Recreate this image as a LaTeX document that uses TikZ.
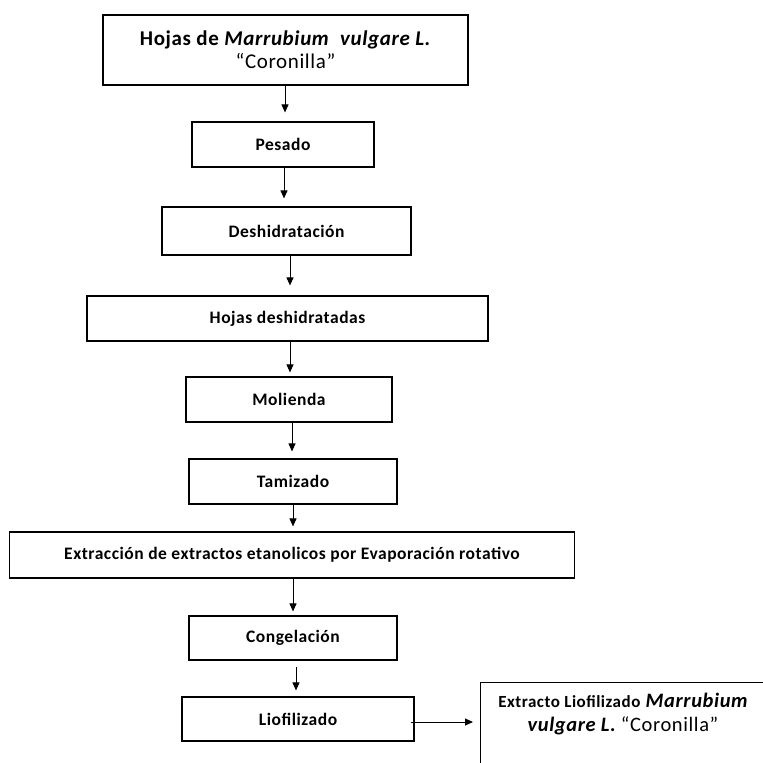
\documentclass[tikz,border=0pt]{standalone}
\usepackage{fontspec}
\setmainfont{Carlito}[LetterSpace=3]
\usetikzlibrary{arrows.meta}
\begin{document}
\begin{tikzpicture}[x=1pt,y=-1pt,
  box/.style={draw, line width=1.2pt, inner sep=0pt, align=center, font=\bfseries\fontsize{17.5}{20}\selectfont},
  arr/.style={line width=1pt, -{Triangle[length=8pt,width=7pt]}}]
\clip (0,0) rectangle (763,763);
\fill[white] (0,0) rectangle (763,763);
\node[box, minimum width=365pt, minimum height=70pt, font=\bfseries\fontsize{21}{23}\selectfont] (b1) at (285.5,50) {Hojas de \textit{Marrubium\hspace{6pt} vulgare L.}\\{\mdseries “Coronilla”}};
\node[box, minimum width=182pt, minimum height=45pt] (b2) at (283,144.5) {Pesado};
\node[box, minimum width=249pt, minimum height=48pt] (b3) at (286.5,231) {Deshidratación};
\node[box, minimum width=401pt, minimum height=45pt] (b4) at (287.5,318.5) {Hojas deshidratadas};
\node[box, minimum width=206pt, minimum height=45pt] (b5) at (289,399.5) {Molienda};
\node[box, minimum width=208pt, minimum height=45pt] (b6) at (293,481.5) {Tamizado};
\node[box, minimum width=565pt, minimum height=46pt] (b7) at (292,555) {Extracción de extractos etanolicos por Evaporación rotativo};
\node[box, minimum width=208pt, minimum height=44pt] (b8) at (293,638) {Congelación};
\node[box, minimum width=232pt, minimum height=44pt] (b9) at (298,719) {Liofilizado};
\node[draw, line width=1.2pt, minimum width=290pt, minimum height=110pt, anchor=north west] (b10) at (480,682) {};
\node[align=center, inner sep=0pt, font=\fontsize{20.5}{24}\selectfont] (t10) at (623,714) {{\bfseries\fontsize{17}{24}\selectfont Extracto Liofilizado} {\bfseries\itshape Marrubium}\\{\bfseries\itshape vulgare L.} “Coronilla”};
\coordinate (c1) at (285,0);
\coordinate (c2) at (284,0);
\coordinate (c3) at (290,0);
\coordinate (c4) at (290,0);
\coordinate (c5) at (292,0);
\coordinate (c6) at (293,0);
\coordinate (c7) at (293,0);
\coordinate (c8) at (296,0);
\draw[arr, shorten >=9pt] (b1.south -| c1) -- (b2.north -| c1);
\draw[arr, shorten >=8pt] (b2.south -| c2) -- (b3.north -| c2);
\draw[arr, shorten >=10pt] (b3.south -| c3) -- (b4.north -| c3);
\draw[arr, shorten >=4pt] (b4.south -| c4) -- (b5.north -| c4);
\draw[arr, shorten >=7pt] (b5.south -| c5) -- (b6.north -| c5);
\draw[arr, shorten >=5pt] (b6.south -| c6) -- (b7.north -| c6);
\draw[arr, shorten >=4pt] (b7.south -| c7) -- (b8.north -| c7);
\draw[arr, shorten >=6pt, shorten <=6pt] (b8.south -| c8) -- (b9.north -| c8);
\coordinate (h9) at (0,722);
\draw[arr, shorten >=7pt, shorten <=-4pt] (b9.east |- h9) -- (b10.west |- h9);
\end{tikzpicture}
\end{document}
